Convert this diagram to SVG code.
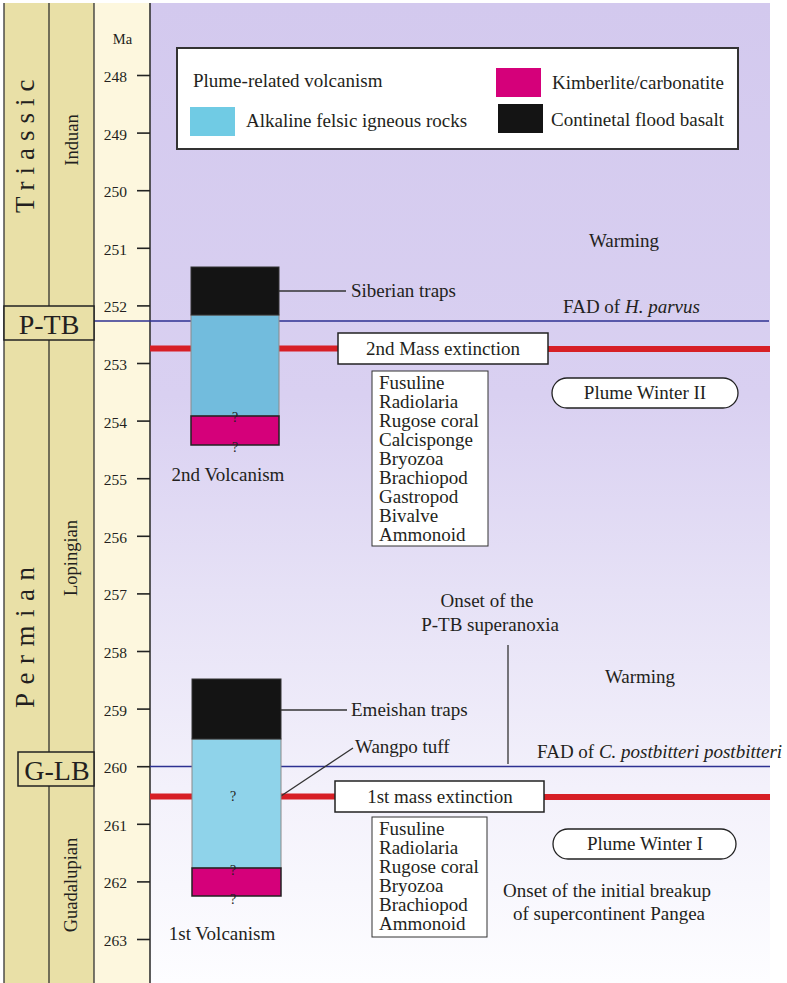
<svg xmlns="http://www.w3.org/2000/svg" width="787" height="983" viewBox="0 0 787 983">
  <style>
    text { font-family: "Liberation Serif", "Times New Roman", serif; fill: #231f20; }
    .lbl { font-size: 19px; }
    .tick { font-size: 15.5px; text-anchor: end; }
    .q { font-size: 14px; text-anchor: middle; }
    .stage { font-size: 18.5px; text-anchor: middle; }
    .period { font-size: 27px; }
    .bnd { font-size: 28px; text-anchor: middle; }
    .box { fill: #ffffff; stroke: #222; stroke-width: 1.5; }
    .list { fill: #ffffff; stroke: #333; stroke-width: 1; }
    .fad { stroke: #2e3192; stroke-width: 1.3; fill: none; }
    .ext { stroke: #d71f26; stroke-width: 6; fill: none; }
    .lead { stroke: #333; stroke-width: 1.3; fill: none; }
    .cfb { fill: #141414; stroke: #333; stroke-width: 1; }
    .kim { fill: #d5007a; stroke: #222; stroke-width: 1.5; }
  </style>
  <defs>
    <linearGradient id="sky" x1="0" y1="0" x2="0" y2="1">
      <stop offset="0" stop-color="#d3c9ee"/>
      <stop offset="0.4" stop-color="#d9d0f1"/>
      <stop offset="0.6" stop-color="#e6e1f6"/>
      <stop offset="0.8" stop-color="#f3f1fb"/>
      <stop offset="1" stop-color="#fdfdff"/>
    </linearGradient>
  </defs>

  <rect width="787" height="983" fill="#ffffff"/>
  <!-- chart background -->
  <rect x="150" y="3" width="620" height="980" fill="url(#sky)"/>

  <!-- time-scale columns -->
  <g id="timescale">
    <rect x="4" y="3" width="90" height="980" fill="#e9e0a7"/>
    <rect x="94" y="3" width="56" height="980" fill="#fdf7de"/>
    <line x1="4" y1="3" x2="4" y2="983" stroke="#333" stroke-width="1.3"/>
    <line x1="94" y1="3" x2="94" y2="983" stroke="#333" stroke-width="1.3"/>
    <line x1="150" y1="3" x2="150" y2="983" stroke="#333" stroke-width="1.6"/>
    <line x1="49" y1="3" x2="49" y2="306" stroke="#222" stroke-width="1.2"/>
    <line x1="49" y1="340" x2="49" y2="752" stroke="#222" stroke-width="1.2"/>
    <line x1="49" y1="786" x2="49" y2="983" stroke="#222" stroke-width="1.2"/>

    <text class="period" transform="translate(34,213) rotate(-90)" letter-spacing="7">Triassic</text>
    <text class="period" transform="translate(34,708) rotate(-90)" letter-spacing="8.5">Permian</text>
    <text class="stage" transform="translate(78,140) rotate(-90)">Induan</text>
    <text class="stage" transform="translate(77,558) rotate(-90)">Lopingian</text>
    <text class="stage" transform="translate(77,885) rotate(-90)">Guadalupian</text>

    <text x="122.5" y="44" font-size="14.5" text-anchor="middle">Ma</text>
    <g stroke="#222" stroke-width="1.6">
      <line x1="137" y1="75.5" x2="150" y2="75.5"/>
      <line x1="137" y1="133.1" x2="150" y2="133.1"/>
      <line x1="137" y1="190.7" x2="150" y2="190.7"/>
      <line x1="137" y1="248.3" x2="150" y2="248.3"/>
      <line x1="137" y1="305.9" x2="150" y2="305.9"/>
      <line x1="137" y1="363.5" x2="150" y2="363.5"/>
      <line x1="137" y1="421.1" x2="150" y2="421.1"/>
      <line x1="137" y1="478.7" x2="150" y2="478.7"/>
      <line x1="137" y1="536.3" x2="150" y2="536.3"/>
      <line x1="137" y1="593.9" x2="150" y2="593.9"/>
      <line x1="137" y1="651.5" x2="150" y2="651.5"/>
      <line x1="137" y1="709.1" x2="150" y2="709.1"/>
      <line x1="137" y1="766.7" x2="150" y2="766.7"/>
      <line x1="137" y1="824.3" x2="150" y2="824.3"/>
      <line x1="137" y1="881.9" x2="150" y2="881.9"/>
      <line x1="137" y1="939.5" x2="150" y2="939.5"/>
    </g>
    <text class="tick" x="127" y="82">248</text>
    <text class="tick" x="127" y="139.6">249</text>
    <text class="tick" x="127" y="197.2">250</text>
    <text class="tick" x="127" y="254.8">251</text>
    <text class="tick" x="127" y="312.4">252</text>
    <text class="tick" x="127" y="370">253</text>
    <text class="tick" x="127" y="427.6">254</text>
    <text class="tick" x="127" y="485.2">255</text>
    <text class="tick" x="127" y="542.8">256</text>
    <text class="tick" x="127" y="600.4">257</text>
    <text class="tick" x="127" y="658">258</text>
    <text class="tick" x="127" y="715.6">259</text>
    <text class="tick" x="127" y="773.2">260</text>
    <text class="tick" x="127" y="830.8">261</text>
    <text class="tick" x="127" y="888.4">262</text>
    <text class="tick" x="127" y="946">263</text>
  </g>

  <!-- boundary lines and extinction levels -->
  <g id="connectors">
    <line class="fad" x1="94" y1="321" x2="769" y2="321"/>
    <line class="fad" x1="150" y1="766.5" x2="770" y2="766.5"/>
    <line class="ext" x1="150" y1="348.5" x2="338" y2="348.5"/>
    <line class="ext" x1="548" y1="349" x2="770" y2="349"/>
    <line class="ext" x1="150" y1="796.5" x2="335" y2="796.5"/>
    <line class="ext" x1="544" y1="797" x2="770" y2="797"/>
    <line class="lead" x1="279" y1="291" x2="346" y2="291"/>
    <line class="lead" x1="281" y1="710" x2="347" y2="710"/>
    <line class="lead" x1="281" y1="796" x2="353" y2="748" stroke-width="1"/>
    <line class="lead" x1="508" y1="645" x2="508" y2="764"/>
  </g>

  <g id="boundary-ptb">
    <rect x="4" y="306" width="90" height="34" fill="#e9e0a7" stroke="#222" stroke-width="1.5"/>
    <text class="bnd" x="49" y="334">P-TB</text>
  </g>
  <g id="boundary-glb">
    <rect x="18" y="752" width="76" height="34" fill="#e9e0a7" stroke="#222" stroke-width="1.5"/>
    <text class="bnd" x="57" y="780">G-LB</text>
  </g>

  <!-- legend -->
  <g id="legend">
    <rect x="177" y="48" width="561" height="101" fill="#ffffff" stroke="#333" stroke-width="2"/>
    <text class="lbl" x="193" y="87">Plume-related volcanism</text>
    <rect x="190" y="107" width="45" height="29" fill="#70cbe4"/>
    <text class="lbl" x="246" y="127">Alkaline felsic igneous rocks</text>
    <rect x="496" y="68" width="45" height="29" fill="#d5007a"/>
    <text class="lbl" x="552" y="89">Kimberlite/carbonatite</text>
    <rect x="498" y="104" width="45" height="29" fill="#141414"/>
    <text class="lbl" x="551" y="126">Continetal flood basalt</text>
  </g>

  <!-- second volcanic episode -->
  <g id="volcanism-2">
    <rect x="191" y="315" width="88" height="101" fill="#72bcdd" stroke="#8a8a8a" stroke-width="1"/>
    <rect class="cfb" x="191" y="267" width="88" height="48"/>
    <rect class="kim" x="191" y="416" width="88" height="29"/>
    <text class="q" x="235" y="422">?</text>
    <text class="q" x="235" y="452">?</text>
    <text class="lbl" x="228" y="481" text-anchor="middle">2nd Volcanism</text>
  </g>
  <g id="siberian-traps">
    <text class="lbl" x="351" y="297">Siberian traps</text>
  </g>
  <g id="fad-parvus">
    <text class="lbl" x="563" y="313">FAD of <tspan font-style="italic">H. parvus</tspan></text>
  </g>
  <g id="warming-2">
    <text class="lbl" x="624" y="247" text-anchor="middle">Warming</text>
  </g>
  <g id="extinction-2">
    <rect class="box" x="338" y="333" width="210" height="31"/>
    <text class="lbl" x="443" y="355" text-anchor="middle">2nd Mass extinction</text>
  </g>
  <g id="victims-2">
    <rect class="list" x="372" y="371" width="116" height="175"/>
    <text class="lbl" x="379" y="389">Fusuline</text>
    <text class="lbl" x="379" y="408">Radiolaria</text>
    <text class="lbl" x="379" y="427">Rugose coral</text>
    <text class="lbl" x="379" y="446">Calcisponge</text>
    <text class="lbl" x="379" y="465">Bryozoa</text>
    <text class="lbl" x="379" y="484">Brachiopod</text>
    <text class="lbl" x="379" y="503">Gastropod</text>
    <text class="lbl" x="379" y="522">Bivalve</text>
    <text class="lbl" x="379" y="541">Ammonoid</text>
  </g>
  <g id="plume-winter-2">
    <rect x="552" y="378" width="186" height="30" rx="15" fill="#ffffff" stroke="#222" stroke-width="1.3"/>
    <text class="lbl" x="645" y="399" text-anchor="middle">Plume Winter II</text>
  </g>

  <g id="superanoxia">
    <text class="lbl" x="487" y="607" text-anchor="middle">Onset of the</text>
    <text class="lbl" x="490" y="631" text-anchor="middle">P-TB superanoxia</text>
  </g>
  <g id="warming-1">
    <text class="lbl" x="640" y="683" text-anchor="middle">Warming</text>
  </g>

  <!-- first volcanic episode -->
  <g id="volcanism-1">
    <rect x="192" y="739" width="89" height="129" fill="#8fd3ea" stroke="#8a8a8a" stroke-width="1"/>
    <rect class="cfb" x="192" y="679" width="89" height="60"/>
    <rect class="kim" x="192" y="868" width="89" height="28"/>
    <text class="q" x="233" y="801">?</text>
    <text class="q" x="233" y="875">?</text>
    <text class="q" x="233" y="904">?</text>
    <text class="lbl" x="222" y="940" text-anchor="middle">1st Volcanism</text>
  </g>
  <g id="emeishan-traps">
    <text class="lbl" x="351" y="716">Emeishan traps</text>
  </g>
  <g id="wangpo-tuff">
    <text class="lbl" x="355" y="753">Wangpo tuff</text>
  </g>
  <g id="fad-postbitteri">
    <text class="lbl" x="537" y="758">FAD of <tspan font-style="italic">C. postbitteri postbitteri</tspan></text>
  </g>
  <g id="extinction-1">
    <rect class="box" x="335" y="781" width="209" height="31"/>
    <text class="lbl" x="440" y="803" text-anchor="middle">1st mass extinction</text>
  </g>
  <g id="victims-1">
    <rect class="list" x="372" y="817" width="115" height="120"/>
    <text class="lbl" x="379" y="835">Fusuline</text>
    <text class="lbl" x="379" y="854">Radiolaria</text>
    <text class="lbl" x="379" y="873">Rugose coral</text>
    <text class="lbl" x="379" y="892">Bryozoa</text>
    <text class="lbl" x="379" y="911">Brachiopod</text>
    <text class="lbl" x="379" y="930">Ammonoid</text>
  </g>
  <g id="plume-winter-1">
    <rect x="553" y="829" width="183" height="30" rx="15" fill="#ffffff" stroke="#222" stroke-width="1.3"/>
    <text class="lbl" x="645" y="850" text-anchor="middle">Plume Winter I</text>
  </g>
  <g id="pangea-breakup">
    <text class="lbl" x="607" y="897" text-anchor="middle">Onset of the initial breakup</text>
    <text class="lbl" x="609" y="920" text-anchor="middle">of supercontinent Pangea</text>
  </g>
</svg>
